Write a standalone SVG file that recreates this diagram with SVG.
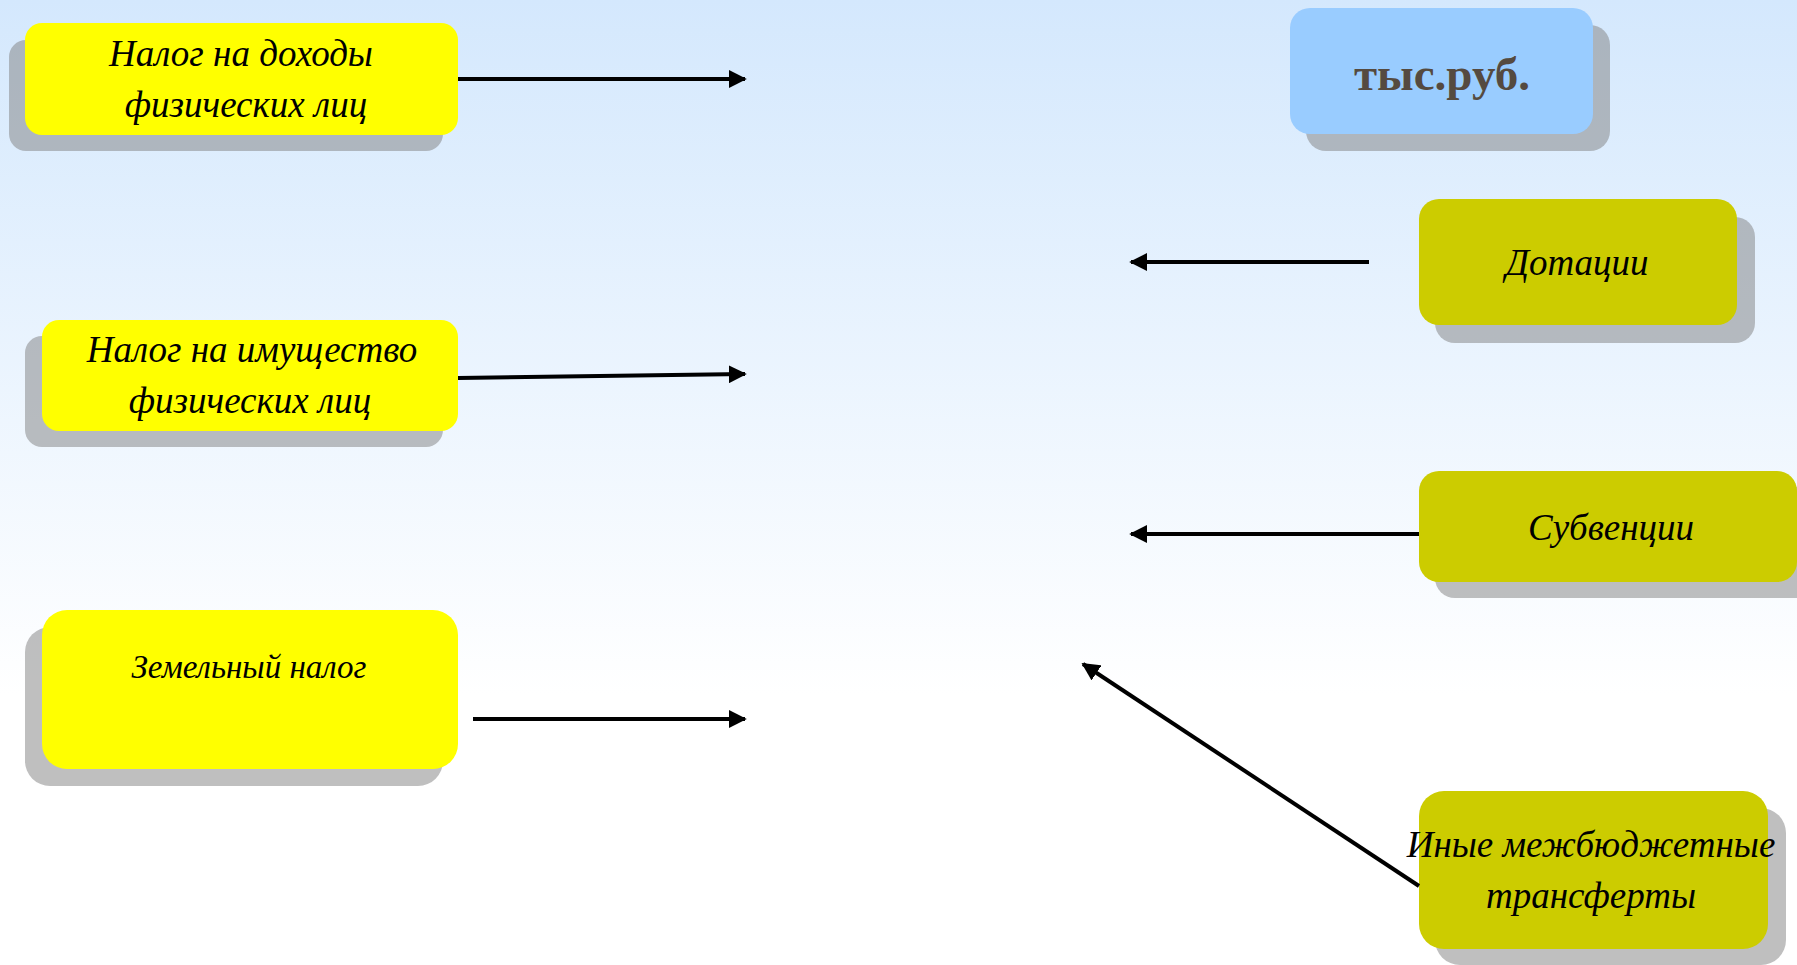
<svg xmlns="http://www.w3.org/2000/svg" width="1797" height="965" viewBox="0 0 1797 965">
<style>
.sh{fill:#808080;fill-opacity:0.5}
.y{fill:#ffff00}
.o{fill:#cccc00}
.b{fill:#99ccff}
.t{font-family:"Liberation Serif","DejaVu Serif",serif;font-style:italic;fill:#000;text-anchor:middle}
.c{stroke:#000;stroke-width:4;fill:none;marker-end:url(#ah)}
</style>
<defs>
<linearGradient id="bg" x1="0" y1="0" x2="0" y2="1">
<stop offset="0" stop-color="#d4e8fd"/>
<stop offset="0.72" stop-color="#ffffff"/>
<stop offset="1" stop-color="#ffffff"/>
</linearGradient>
<marker id="ah" viewBox="0 0 10 10" refX="9" refY="5" markerWidth="4.5" markerHeight="4.5" orient="auto" markerUnits="strokeWidth">
<path d="M0,0 L10,5 L0,10 Z" fill="#000"/>
</marker>
</defs>
<rect x="0" y="0" width="1797" height="965" fill="url(#bg)"/>

<g id="node-ndfl">
<rect class="sh" x="9" y="40" width="434" height="111" rx="17"/>
<rect class="y" x="25" y="23" width="433" height="112" rx="17"/>
<text class="t" font-size="37" x="241" y="66">Налог на доходы</text>
<text class="t" font-size="37" x="246" y="117">физических лиц</text>
</g>

<g id="node-imush">
<rect class="sh" x="25" y="336" width="418" height="111" rx="17"/>
<rect class="y" x="42" y="320" width="416" height="111" rx="17"/>
<text class="t" font-size="37" x="252" y="362">Налог на имущество</text>
<text class="t" font-size="37" x="250" y="413">физических лиц</text>
</g>

<g id="node-zem">
<rect class="sh" x="25" y="627" width="418" height="159" rx="25"/>
<rect class="y" x="42" y="610" width="416" height="159" rx="25"/>
<text class="t" font-size="33" x="249" y="678">Земельный налог</text>
</g>

<g id="node-unit">
<rect class="sh" x="1306" y="25" width="304" height="126" rx="20"/>
<rect class="b" x="1290" y="8" width="303" height="126" rx="20"/>
<text font-family="'Liberation Serif','DejaVu Serif',serif" font-weight="bold" font-size="47" fill="#554a40" text-anchor="middle" x="1442" y="90">тыс.руб.</text>
</g>

<g id="node-dot">
<rect class="sh" x="1435" y="217" width="320" height="126" rx="20"/>
<rect class="o" x="1419" y="199" width="318" height="126" rx="20"/>
<text class="t" font-size="37" x="1577" y="275">Дотации</text>
</g>

<g id="node-subv">
<rect class="sh" x="1435" y="487" width="380" height="111" rx="20"/>
<rect class="o" x="1419" y="471" width="378" height="111" rx="20"/>
<text class="t" font-size="37" x="1611" y="540">Субвенции</text>
</g>

<g id="node-inye">
<rect class="sh" x="1435" y="808" width="351" height="157" rx="25"/>
<rect class="o" x="1419" y="791" width="349" height="158" rx="25"/>
<text class="t" font-size="37" x="1591" y="857">Иные межбюджетные</text>
<text class="t" font-size="37" x="1591" y="908">трансферты</text>
</g>

<g id="connectors">
<line class="c" x1="458" y1="79" x2="745" y2="79"/>
<line class="c" x1="458" y1="378" x2="745" y2="374"/>
<line class="c" x1="473" y1="719" x2="745" y2="719"/>
<line class="c" x1="1369" y1="262" x2="1131" y2="262"/>
<line class="c" x1="1419" y1="534" x2="1131" y2="534"/>
<line class="c" x1="1419" y1="886" x2="1083" y2="664"/>
</g>
</svg>
